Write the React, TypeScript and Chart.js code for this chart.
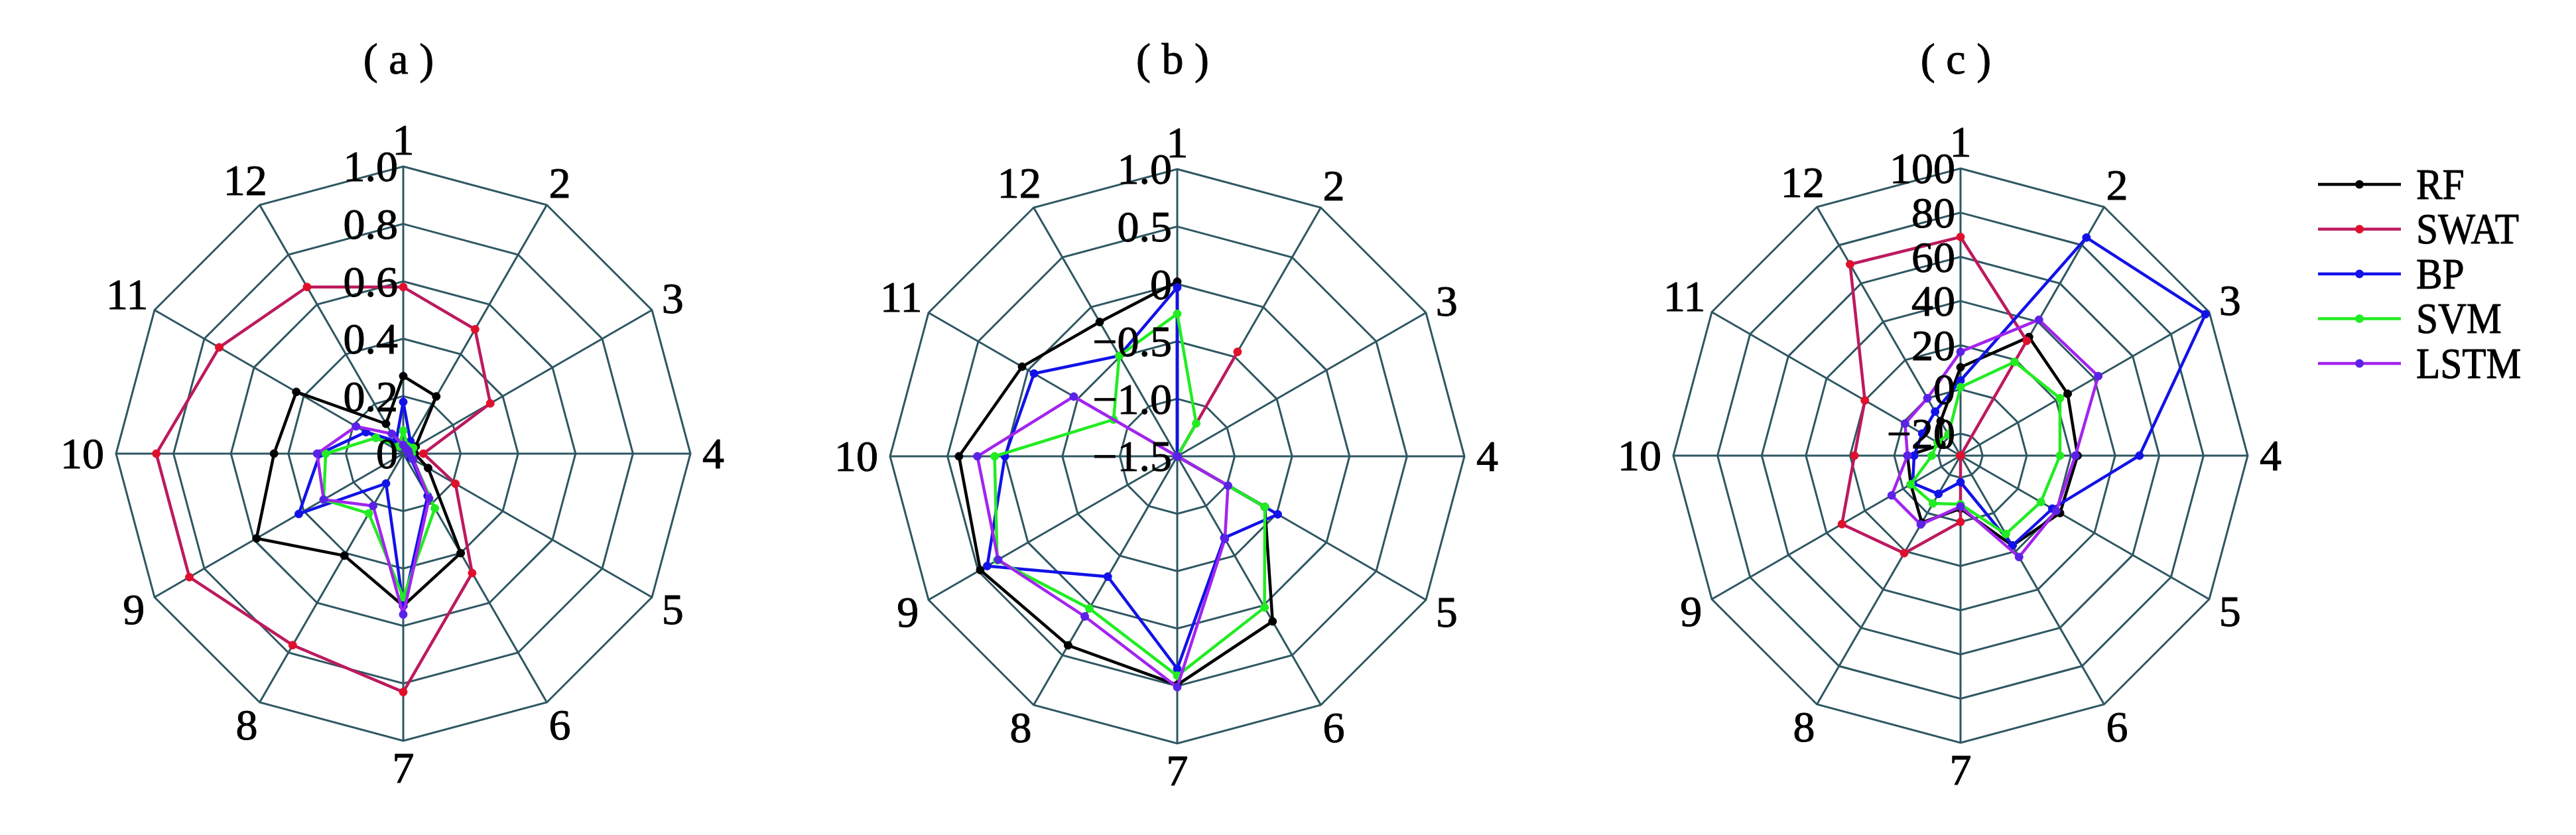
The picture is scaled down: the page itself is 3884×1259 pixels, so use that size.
import React, { useEffect, useRef } from 'react';
import { Chart, registerables } from 'chart.js';

Chart.register(...registerables);

// ---------- data ----------
const categories = ['1', '2', '3', '4', '5', '6', '7', '8', '9', '10', '11', '12'];
const seriesNames = ['RF', 'SWAT', 'BP', 'SVM', 'LSTM'];

// panel (a)
const rfA = [0.27, 0.23, 0.05, 0.04, 0.10, 0.40, 0.53, 0.41, 0.59, 0.45, 0.43, 0.12];
const swatA = [0.58, 0.50, 0.35, 0.07, 0.21, 0.48, 0.83, 0.77, 0.86, 0.86, 0.74, 0.67];
const bpA = [0.18, 0.05, 0.03, 0.02, 0.03, 0.17, 0.53, 0.12, 0.42, 0.29, 0.15, 0.05];
const svmA = [0.08, 0.03, 0.04, 0.03, 0.04, 0.22, 0.50, 0.24, 0.32, 0.27, 0.11, 0.03];
const lstmA = [0.03, 0.02, 0.02, 0.02, 0.04, 0.18, 0.56, 0.21, 0.32, 0.30, 0.19, 0.08];
const ticksA = [0, 0.2, 0.4, 0.6, 0.8, 1.0];

// panel (b)
const rfB = [0.02, -1.5, -1.5, -1.5, -0.62, 0.16, 0.49, 0.40, 0.48, 0.40, 0.06, -0.15];
const swatB = [-1.5, -0.45, -1.5, -1.5, -1.5, -1.5, -1.5, -1.5, -1.5, -1.5, -1.5, -1.5];
const bpB = [-0.03, -1.5, -1.5, -1.5, -0.49, -0.68, 0.35, -0.29, 0.41, 0.0, -0.06, -0.49];
const svmB = [-0.26, -1.17, -1.5, -1.5, -0.62, 0.02, 0.41, 0.03, 0.31, 0.09, -0.86, -0.49];
const lstmB = [-1.5, -1.5, -1.5, -1.5, -0.99, -0.67, 0.51, 0.11, 0.30, 0.24, -0.46, -1.5];
const ticksB = [-1.5, -1.0, -0.5, 0, 0.5, 1.0];

// panel (c)
const rfC = [10, 32, 26, 23, 22, 17, -6, 5, -4, -6, -20, -12];
const swatC = [69, 30, -30, -30, -30, -30, 0, 21, 32, 18, 20, 70];
const bpC = [4, 84, 98, 51, 18, 17, -18, -10, -5, -9, -10, -7];
const svmC = [1, 19, 22, 15, 12, 11, -8, -5, -4, -17, -18, -19];
const lstmC = [17, 41, 42, 22, 20, 23, -7, 6, 6, -6, -1, 0];
const ticksC = [-20, 0, 20, 40, 60, 80, 100];

// ---------- styles ----------
const LINE_COLORS = ['#000000', '#bc1a5e', '#1212e8', '#22ec22', '#a224ee'];
const POINT_COLORS = ['#000000', '#e0102c', '#1212e8', '#22ec22', '#5a22e6'];
const GRID = '#2e5762';
const SERIF = '"Liberation Serif", "Times New Roman", serif';
const FS = 66;
const R = 433;
const H = 1259;

type Panel = {
  title: string;
  series: number[][];
  min: number;
  max: number;
  step: number;
  ticks: number[];
  decimals: number;
  cx: number;
  cy: number;
  left: number;
  width: number;
  legend: boolean;
};

const panels: Panel[] = [
  { title: '( a )', series: [rfA, swatA, bpA, svmA, lstmA], min: 0, max: 1, step: 0.2, ticks: ticksA, decimals: 1, cx: 608, cy: 684, left: 28, width: 1160, legend: false },
  { title: '( b )', series: [rfB, swatB, bpB, svmB, lstmB], min: -1.5, max: 1, step: 0.5, ticks: ticksB, decimals: 1, cx: 1775, cy: 688, left: 1195, width: 1160, legend: false },
  { title: '( c )', series: [rfC, swatC, bpC, svmC, lstmC], min: -30, max: 100, step: 20, ticks: ticksC, decimals: 0, cx: 2956, cy: 687, left: 2376, width: 1508, legend: true },
];

function fmt(v: number, decimals: number): string {
  if (Math.abs(v) < 1e-9) return '0';
  const s = v.toFixed(decimals);
  return s.replace('-', '\u2212');
}

function boldText(ctx: CanvasRenderingContext2D, text: string, x: number, y: number) {
  ctx.fillText(text, x, y);
  ctx.strokeText(text, x, y);
}

const overlayPlugin = {
  id: 'overlay',
  afterDraw(chart: any, _args: any, opts: any) {
    const scale = chart.scales.r;
    const ctx: CanvasRenderingContext2D = chart.ctx;
    const cx = scale.xCenter;
    const cy = scale.yCenter;
    const rad = scale.drawingArea;
    ctx.save();
    ctx.fillStyle = '#000';
    ctx.strokeStyle = '#000';
    ctx.lineWidth = 1;
    ctx.lineJoin = 'round';
    ctx.font = `${FS}px ${SERIF}`;
    const hh = FS * 0.338;

    // point labels
    (chart.data.labels as string[]).forEach((lab, i) => {
      const ang = scale.getIndexAngle(i) - Math.PI / 2;
      const c = Math.cos(ang);
      const s = Math.sin(ang);
      const hw = ctx.measureText(lab).width / 2;
      const d = rad + 18 + Math.sqrt((c * hw) ** 2 + (s * hh) ** 2);
      const p = scale.getPointPosition(i, d);
      ctx.textAlign = 'center';
      ctx.textBaseline = 'alphabetic';
      boldText(ctx, lab, p.x, p.y + hh);
    });

    // tick labels
    (opts.ticks as number[]).forEach((v) => {
      const r = scale.getDistanceFromCenterForValue(v);
      ctx.textAlign = 'right';
      ctx.textBaseline = 'alphabetic';
      boldText(ctx, fmt(v, opts.decimals), cx - 8, cy - r + hh);
    });

    // title
    ctx.font = `66px ${SERIF}`;
    ctx.textAlign = 'center';
    boldText(ctx, opts.title, cx - 7, 111);

    // legend
    if (opts.legend) {
      const x0 = cx + 539;
      const lineLen = 125;
      chart.data.datasets.forEach((ds: any, k: number) => {
        const y = 278 + k * 67.5;
        ctx.strokeStyle = ds.borderColor;
        ctx.lineWidth = 4.5;
        ctx.beginPath();
        ctx.moveTo(x0, y);
        ctx.lineTo(x0 + lineLen, y);
        ctx.stroke();
        ctx.fillStyle = ds.pointBackgroundColor;
        ctx.beginPath();
        ctx.arc(x0 + lineLen / 2, y, 6.5, 0, Math.PI * 2);
        ctx.fill();
        ctx.fillStyle = '#000';
        ctx.strokeStyle = '#000';
        ctx.lineWidth = 1;
        ctx.font = `66px ${SERIF}`;
        ctx.textAlign = 'left';
        ctx.save();
        ctx.translate(x0 + 148, y + 66 * 0.331);
        ctx.scale(0.9, 1);
        boldText(ctx, ds.label, 0, 0);
        ctx.restore();
      });
    }
    ctx.restore();
  },
};

function RadarPanel({ panel }: { panel: Panel }) {
  const ref = useRef<HTMLCanvasElement | null>(null);
  useEffect(() => {
    if (!ref.current) return;
    const padL = panel.cx - panel.left - R;
    const padR = panel.width - padL - 2 * R;
    const padT = panel.cy - R;
    const padB = H - padT - 2 * R;
    const chart = new Chart(ref.current, {
      type: 'radar',
      data: {
        labels: categories,
        datasets: panel.series.map((vals, k) => ({
          label: seriesNames[k],
          data: vals,
          borderColor: LINE_COLORS[k],
          backgroundColor: 'rgba(0,0,0,0)',
          fill: false,
          borderWidth: 4.5,
          pointRadius: 6,
          pointBackgroundColor: POINT_COLORS[k],
          pointBorderColor: POINT_COLORS[k],
          pointBorderWidth: 1,
          tension: 0,
          order: 5 - k,
        })),
      },
      options: {
        responsive: false,
        maintainAspectRatio: false,
        animation: false,
        devicePixelRatio: 1,
        layout: { padding: { left: padL, right: padR, top: padT, bottom: padB } },
        plugins: {
          legend: { display: false },
          tooltip: { enabled: false },
          overlay: { ticks: panel.ticks, decimals: panel.decimals, title: panel.title, legend: panel.legend },
        } as any,
        scales: {
          r: {
            min: panel.min,
            max: panel.max,
            startAngle: 0,
            ticks: { stepSize: panel.step, display: false },
            pointLabels: { display: false },
            grid: { color: GRID, lineWidth: 3 },
            angleLines: { color: GRID, lineWidth: 3 },
          },
        },
      },
      plugins: [overlayPlugin],
    });
    return () => chart.destroy();
  }, [panel]);
  return (
    <canvas
      ref={ref}
      width={panel.width}
      height={H}
      style={{ position: 'absolute', left: panel.left, top: 0, width: panel.width, height: H }}
    />
  );
}

export default function App() {
  return (
    <div style={{ position: 'absolute', left: 0, top: 0, width: 3884, height: H, background: '#fff', overflow: 'hidden' }}>
      {panels.map((p, i) => (
        <RadarPanel key={i} panel={p} />
      ))}
    </div>
  );
}
